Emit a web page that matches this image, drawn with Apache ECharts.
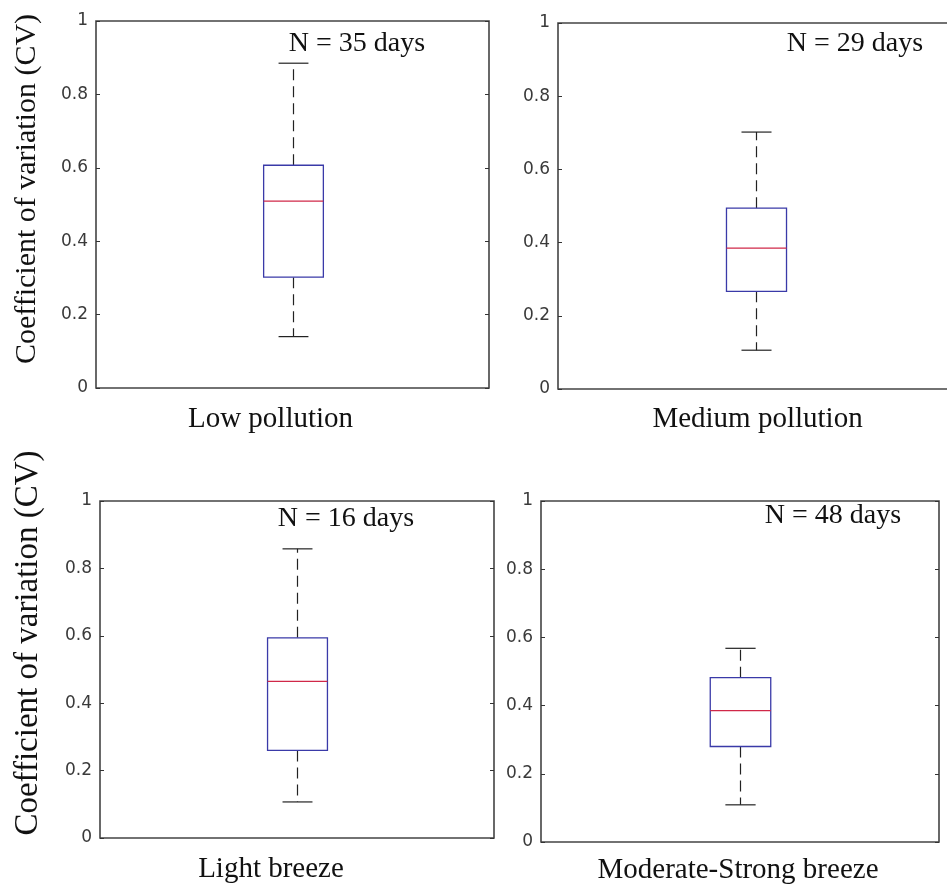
<!DOCTYPE html>
<html>
<head>
<meta charset="utf-8">
<script src="https://cdn.jsdelivr.net/npm/echarts@6/dist/echarts.min.js"></script>
<style>
html,body{margin:0;padding:0;background:#fff;}
#chart{width:947px;height:884px;}
</style>
</head>
<body>
<div id="chart"></div>
<script>
// ---- data ----
const categories = ['Low pollution', 'Medium pollution', 'Light breeze', 'Moderate-Strong breeze'];
const nLabels = ['N = 35 days', 'N = 29 days', 'N = 16 days', 'N = 48 days'];
const lowWhisker  = [0.140, 0.106, 0.107, 0.109];
const q1Values    = [0.302, 0.267, 0.260, 0.280];
const medians     = [0.509, 0.385, 0.465, 0.385];
const q3Values    = [0.607, 0.494, 0.594, 0.482];
const highWhisker = [0.885, 0.702, 0.858, 0.568];
const yTicks = [0, 0.2, 0.4, 0.6, 0.8, 1];
const yAxisTitle = 'Coefficient of variation (CV)';

// ---- layout ----
const grids = [
  {left: 96,  top: 21,  width: 393, height: 367},
  {left: 558, top: 23,  width: 395, height: 366},
  {left: 100, top: 501, width: 394, height: 337},
  {left: 541, top: 501, width: 398, height: 341}
];
const catLabelOffset = [44, -4, 52, 4];   // shift of category label (px, padding right)
const catLabelMargin = [17, 16, 17, 14];
const nLabelPos = [[357, 44], [855, 44], [346, 519], [833, 516]];
const yTitlePos = [[27, 189, 30], [28, 643, 33]];

const serif = '"Liberation Serif", "Times New Roman", serif';
const sans = '"DejaVu Sans", sans-serif';

function renderBox(params, api) {
  const x = api.value(0);
  const low = api.coord([x, api.value(1)]);
  const q1 = api.coord([x, api.value(2)]);
  const med = api.coord([x, api.value(3)]);
  const q3 = api.coord([x, api.value(4)]);
  const high = api.coord([x, api.value(5)]);
  const band = api.size([1, 0])[0];
  const bw = band * 0.152;
  const cw = bw / 2;
  const cx = Math.round(low[0]) + 0.5;
  const dash = {stroke: '#222', lineWidth: 1.2, lineDash: [11, 6]};
  const solid = {stroke: '#222', lineWidth: 1.2};
  return {
    type: 'group',
    children: [
      {type: 'line', shape: {x1: cx, y1: q3[1], x2: cx, y2: high[1]}, style: dash},
      {type: 'line', shape: {x1: cx, y1: q1[1], x2: cx, y2: low[1]}, style: dash},
      {type: 'line', shape: {x1: cx - cw / 2, y1: high[1], x2: cx + cw / 2, y2: high[1]}, style: solid},
      {type: 'line', shape: {x1: cx - cw / 2, y1: low[1], x2: cx + cw / 2, y2: low[1]}, style: solid},
      {type: 'rect', shape: {x: cx - bw / 2, y: q3[1], width: bw, height: q1[1] - q3[1]},
        style: {fill: '#fff', stroke: '#3a3aa8', lineWidth: 1.3}},
      {type: 'line', shape: {x1: cx - bw / 2, y1: med[1], x2: cx + bw / 2, y2: med[1]},
        style: {stroke: '#d02848', lineWidth: 1.3}}
    ]
  };
}

const option = {
  animation: false,
  backgroundColor: '#fff',
  grid: grids.map(g => Object.assign({show: true, borderColor: '#444', borderWidth: 1.6,
    backgroundColor: 'transparent', containLabel: false, outerBoundsMode: 'none'}, g)),
  xAxis: categories.map((c, i) => ({
    type: 'category',
    gridIndex: i,
    data: [c],
    axisLine: {show: false},
    axisTick: {show: false},
    splitLine: {show: false},
    axisLabel: {
      show: true,
      margin: catLabelMargin[i],
      fontFamily: serif,
      fontSize: 29,
      color: '#111',
      lineHeight: 29,
      padding: catLabelOffset[i] >= 0 ? [0, catLabelOffset[i], 0, 0] : [0, 0, 0, -catLabelOffset[i]]
    }
  })),
  yAxis: [],
  series: [],
  graphic: []
};

for (let i = 0; i < 4; i++) {
  option.yAxis.push({
    type: 'value', gridIndex: i, min: yTicks[0], max: yTicks[yTicks.length - 1], interval: 0.2,
    position: 'left',
    axisLine: {show: false},
    axisTick: {show: true, inside: true, length: 4, lineStyle: {color: '#333', width: 1}},
    splitLine: {show: false},
    axisLabel: {
      margin: 8, fontFamily: sans, fontSize: 17, color: '#3a3a3a',
      formatter: v => (v === 0 || v === 1) ? String(v) : v.toFixed(1)
    }
  });
  option.yAxis.push({
    type: 'value', gridIndex: i, min: yTicks[0], max: yTicks[yTicks.length - 1], interval: 0.2,
    position: 'right',
    axisLine: {show: false},
    axisTick: {show: true, inside: true, length: 4, lineStyle: {color: '#333', width: 1}},
    splitLine: {show: false},
    axisLabel: {show: false}
  });
  option.series.push({
    type: 'custom',
    xAxisIndex: i,
    yAxisIndex: i * 2,
    renderItem: renderBox,
    encode: {x: 0, y: [1, 2, 3, 4, 5]},
    data: [[0, lowWhisker[i], q1Values[i], medians[i], q3Values[i], highWhisker[i]]],
    z: 5
  });
  option.graphic.push({
    type: 'text', x: nLabelPos[i][0], y: nLabelPos[i][1], z: 10,
    style: {text: nLabels[i], font: '28px ' + serif, fill: '#111', textAlign: 'center', textVerticalAlign: 'middle'}
  });
}
yTitlePos.forEach(p => {
  option.graphic.push({
    type: 'text', x: p[0], y: p[1], rotation: Math.PI / 2, z: 10,
    style: {text: yAxisTitle, font: p[2] + 'px ' + serif, fill: '#111', textAlign: 'center', textVerticalAlign: 'middle'}
  });
});

const chart = echarts.init(document.getElementById('chart'), null, {renderer: 'canvas'});
chart.setOption(option);
</script>
</body>
</html>
